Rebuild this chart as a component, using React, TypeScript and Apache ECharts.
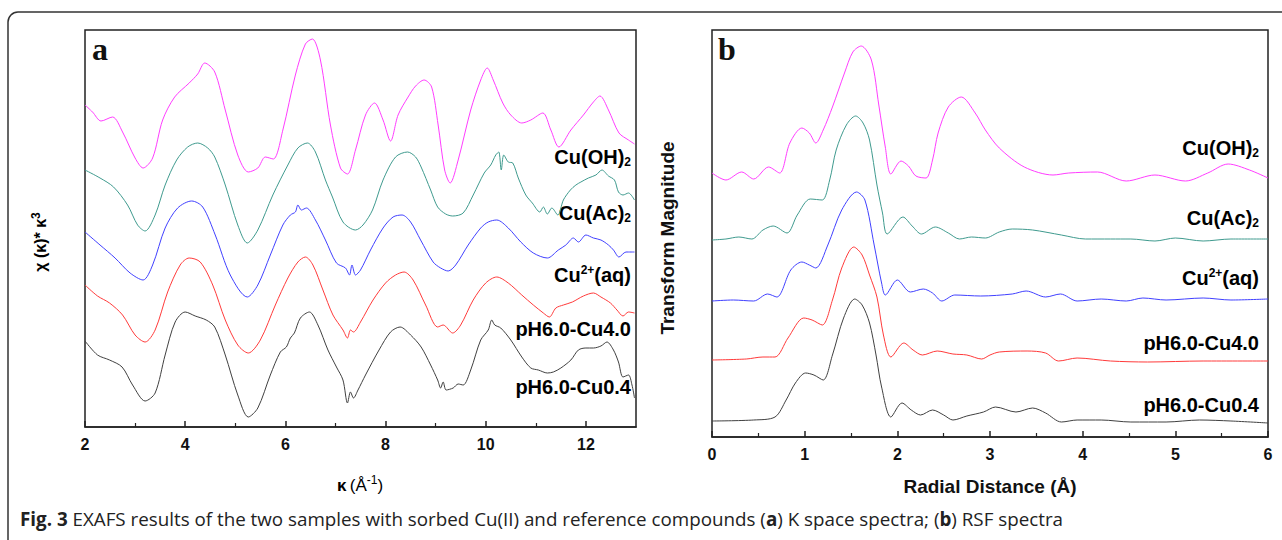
import React, { useEffect, useRef } from "react";
import * as echarts from "echarts";

// ---------- Panel a: k-space spectra (k, chi*k^3 offset, arbitrary units) ----------
const kTicksMajor = [2, 4, 6, 8, 10, 12];
const kTicksMinor = [3, 5, 7, 9, 11];

const kCuOH2 = [[2.0,322],[2.15,315],[2.32,306],[2.55,310],[2.75,295],[3.0,269],[3.16,259],[3.35,269],[3.55,307],[3.79,330],[4.08,344],[4.25,353],[4.39,364],[4.59,355],[4.8,317],[5.05,272],[5.26,255],[5.45,259],[5.6,270],[5.76,268],[5.95,297],[6.2,352],[6.4,383],[6.54,388],[6.7,367],[6.9,302],[7.1,259],[7.24,253],[7.4,277],[7.6,312],[7.78,324],[7.95,307],[8.1,286],[8.25,312],[8.45,330],[8.6,341],[8.77,347],[8.92,340],[9.05,302],[9.18,257],[9.29,244],[9.45,267],[9.7,317],[9.9,347],[10.03,359],[10.15,347],[10.34,324],[10.5,312],[10.72,304],[10.9,307],[11.14,314],[11.3,297],[11.46,280],[11.7,297],[11.95,312],[12.15,325],[12.28,331],[12.45,317],[12.66,294],[12.85,287],[12.97,283]];
const kCuAc2 = [[2.0,257],[2.3,249],[2.57,240],[2.85,222],[3.05,202],[3.2,196],[3.4,212],[3.6,242],[3.83,267],[4.05,280],[4.25,284],[4.45,279],[4.59,270],[4.8,242],[5.05,202],[5.24,184],[5.45,197],[5.75,232],[6.05,262],[6.25,279],[6.44,284],[6.6,275],[6.8,247],[6.94,230],[7.15,205],[7.4,197],[7.55,202],[7.74,217],[7.95,247],[8.2,270],[8.44,275],[8.6,270],[8.71,260],[8.9,237],[9.04,220],[9.2,213],[9.34,211],[9.55,214],[9.75,232],[9.97,254],[10.1,262],[10.2,272],[10.26,275],[10.31,257],[10.36,272],[10.45,265],[10.54,264],[10.65,249],[10.8,232],[10.93,224],[11.08,215],[11.15,220],[11.23,213],[11.32,219],[11.44,212],[11.55,227],[11.69,237],[11.8,242],[11.9,245],[12.05,249],[12.2,252],[12.32,257],[12.45,251],[12.57,247],[12.65,235],[12.74,232],[12.85,234],[12.97,227]];
const kCuAq = [[2.0,195],[2.3,182],[2.6,169],[2.9,154],[3.16,147],[3.35,162],[3.6,199],[3.85,219],[4.13,226],[4.35,220],[4.6,192],[4.9,152],[5.24,130],[5.45,142],[5.7,172],[5.95,202],[6.1,212],[6.2,215],[6.25,222],[6.32,217],[6.42,219],[6.6,207],[6.8,187],[7.02,164],[7.2,159],[7.28,152],[7.33,162],[7.4,152],[7.5,157],[7.7,177],[7.95,199],[8.15,210],[8.33,212],[8.5,205],[8.7,187],[8.95,165],[9.1,159],[9.25,156],[9.4,162],[9.65,182],[9.9,199],[10.05,205],[10.22,207],[10.45,199],[10.7,185],[10.95,174],[11.23,169],[11.45,177],[11.6,182],[11.75,189],[11.85,185],[12.0,192],[12.15,189],[12.3,187],[12.45,182],[12.55,177],[12.66,170],[12.8,175],[12.97,175]];
const kPh60Cu40 = [[2.0,142],[2.25,131],[2.49,124],[2.75,112],[3.0,92],[3.2,85],[3.4,97],[3.65,135],[3.9,162],[4.08,169],[4.3,165],[4.55,142],[4.8,107],[5.05,82],[5.26,74],[5.5,87],[5.8,122],[6.05,149],[6.25,165],[6.4,170],[6.55,162],[6.75,137],[6.95,112],[7.15,97],[7.24,89],[7.3,97],[7.36,95],[7.5,105],[7.75,127],[8.0,144],[8.2,152],[8.37,155],[8.55,147],[8.8,122],[9.04,100],[9.15,102],[9.34,94],[9.5,102],[9.75,127],[10.0,144],[10.22,150],[10.45,144],[10.72,132],[10.95,122],[11.15,114],[11.27,110],[11.4,119],[11.55,122],[11.73,125],[11.95,131],[12.15,134],[12.3,130],[12.49,124],[12.62,117],[12.74,111],[12.85,115],[12.97,114]];
const kPh60Cu04 = [[2.0,86],[2.25,72],[2.49,67],[2.74,60],[2.95,42],[3.2,26],[3.4,34],[3.6,72],[3.8,105],[4.0,115],[4.2,111],[4.42,107],[4.59,100],[4.8,72],[5.05,32],[5.26,10],[5.45,19],[5.7,52],[5.9,75],[6.02,80],[6.1,89],[6.18,94],[6.3,109],[6.48,115],[6.65,102],[6.85,77],[7.02,60],[7.15,47],[7.24,24],[7.3,35],[7.36,29],[7.45,37],[7.6,52],[7.87,77],[8.1,95],[8.29,100],[8.5,92],[8.71,80],[8.9,62],[9.04,47],[9.1,39],[9.15,45],[9.21,37],[9.35,39],[9.45,43],[9.55,42],[9.7,57],[9.9,87],[10.05,97],[10.12,107],[10.18,102],[10.3,99],[10.5,87],[10.72,70],[10.9,59],[11.05,57],[11.23,54],[11.35,55],[11.5,59],[11.7,67],[11.85,77],[12.0,79],[12.15,79],[12.3,81],[12.42,85],[12.55,77],[12.65,65],[12.74,50],[12.85,52],[12.92,42],[12.97,29]];

// ---------- Panel b: RSF spectra (R in Å, transform magnitude offset) ----------
const rTicksMajor = [0, 1, 2, 3, 4, 5, 6];
const rTicksMinor = [0.5, 1.5, 2.5, 3.5, 4.5, 5.5];

const rCuOH2 = [[0,264],[0.15,257],[0.32,265],[0.45,258],[0.61,270],[0.73,264],[0.84,294],[0.97,309],[1.05,304],[1.12,294],[1.2,307],[1.3,330],[1.43,364],[1.52,385],[1.61,391],[1.72,377],[1.8,332],[1.87,290],[1.93,263],[2.04,276],[2.12,271],[2.2,261],[2.31,259],[2.38,277],[2.44,304],[2.55,330],[2.69,340],[2.84,324],[2.95,307],[3.1,289],[3.37,270],[3.68,262],[3.85,264],[4.16,265],[4.47,256],[4.78,262],[5.11,256],[5.35,264],[5.57,273],[5.8,267],[6.0,259]];
const rCuAc2 = [[0,197],[0.15,198],[0.29,200],[0.43,198],[0.55,207],[0.66,211],[0.81,204],[0.92,222],[1.06,238],[1.19,237],[1.27,257],[1.34,287],[1.45,312],[1.55,321],[1.63,314],[1.7,297],[1.78,252],[1.84,224],[1.89,203],[2.06,220],[2.16,211],[2.26,203],[2.41,210],[2.55,204],[2.67,198],[2.8,200],[2.95,199],[3.1,205],[3.24,208],[3.46,207],[3.77,202],[4.03,198],[4.3,198],[4.52,198],[4.78,196],[5.0,199],[5.3,196],[5.6,198],[6.0,198]];
const rCuAq = [[0,136],[0.23,137],[0.45,136],[0.6,143],[0.7,140],[0.85,167],[0.97,175],[1.05,172],[1.12,169],[1.25,192],[1.4,227],[1.56,245],[1.65,237],[1.75,192],[1.83,154],[1.87,142],[2.0,157],[2.14,145],[2.28,148],[2.38,144],[2.48,136],[2.62,142],[2.9,141],[3.24,143],[3.39,146],[3.6,140],[3.76,143],[3.94,136],[4.2,138],[4.47,136],[4.65,139],[4.9,137],[5.3,139],[5.6,137],[6.0,138]];
const rPh60Cu40 = [[0,77],[0.37,78],[0.55,80],[0.68,80],[0.82,99],[0.99,119],[1.08,117],[1.19,112],[1.3,137],[1.4,169],[1.53,190],[1.62,182],[1.7,162],[1.78,140],[1.85,102],[1.93,80],[2.07,94],[2.17,87],[2.27,82],[2.43,86],[2.6,83],[2.75,82],[2.91,78],[3.0,82],[3.1,85],[3.4,86],[3.6,84],[3.74,76],[3.94,79],[4.3,76],[4.7,75],[5.3,76],[6.0,76]];
const rPh60Cu04 = [[0,16],[0.45,17],[0.68,20],[0.8,37],[0.9,54],[1.01,64],[1.1,62],[1.2,57],[1.3,82],[1.42,119],[1.54,138],[1.62,132],[1.7,114],[1.77,82],[1.83,50],[1.93,20],[2.05,34],[2.15,27],[2.25,22],[2.38,27],[2.5,22],[2.6,17],[2.75,21],[2.93,25],[3.06,30],[3.28,25],[3.46,29],[3.6,24],[3.77,15],[3.94,17],[4.2,17],[4.52,15],[4.9,15],[5.26,17],[5.6,16],[6.0,14]];

const seriesNames = ["Cu(OH)2", "Cu(Ac)2", "Cu2+(aq)", "pH6.0-Cu4.0", "pH6.0-Cu0.4"];
const seriesColors = ["#ff3dff", "#3f9a8e", "#4040ff", "#ff3a3a", "#404040"];

const SANS = "'Liberation Sans', Arial, Helvetica, sans-serif";
const SERIF = "'Liberation Serif', 'Times New Roman', serif";
const NARROW = "'Liberation Sans Narrow', 'Arial Narrow', 'Open Sans', sans-serif";

function mainAxis(grid: number, min: number, max: number, interval: number, ticks: number[]) {
  return {
    gridIndex: grid,
    type: "value",
    min,
    max,
    interval,
    position: "bottom",
    axisLine: { show: true, onZero: false, lineStyle: { color: "#222", width: 1.5 } },
    axisTick: { show: true, inside: true, length: 6, customValues: ticks, lineStyle: { color: "#222", width: 1.5 } },
    axisLabel: {
      show: true,
      customValues: ticks,
      fontFamily: SANS,
      fontWeight: "bold",
      fontSize: 16,
      color: "#111",
      margin: 9,
    },
    splitLine: { show: false },
  };
}

function minorAxis(grid: number, min: number, max: number, ticks: number[]) {
  return {
    gridIndex: grid,
    type: "value",
    min,
    max,
    position: "bottom",
    axisLine: { show: false, onZero: false },
    axisTick: { show: true, inside: true, length: 4, customValues: ticks, lineStyle: { color: "#222", width: 1.2 } },
    axisLabel: { show: false },
    splitLine: { show: false },
  };
}

function hiddenY(grid: number, max: number) {
  return {
    gridIndex: grid,
    type: "value",
    min: 0,
    max,
    axisLine: { show: false },
    axisTick: { show: false },
    axisLabel: { show: false },
    splitLine: { show: false },
  };
}

function lineSeries(data: number[][], color: string, xi: number, yi: number, name: string) {
  return {
    name,
    type: "line",
    xAxisIndex: xi,
    yAxisIndex: yi,
    data,
    symbol: "none",
    smooth: 0.3,
    lineStyle: { color, width: 1 },
    silent: true,
  };
}

const labelRich = {
  m: { fontFamily: SANS, fontWeight: "bold", fontSize: 20, color: "#111", lineHeight: 22 },
  sub: { fontFamily: SANS, fontWeight: "bold", fontSize: 12, color: "#111", lineHeight: 12, verticalAlign: "bottom" },
  sup: { fontFamily: SANS, fontWeight: "bold", fontSize: 12, color: "#111", lineHeight: 12, verticalAlign: "top" },
};

const labelTexts = [
  "{m|Cu(OH)}{sub|2}",
  "{m|Cu(Ac)}{sub|2}",
  "{m|Cu}{sup|2+}{m|(aq)}",
  "{m|pH6.0-Cu4.0}",
  "{m|pH6.0-Cu0.4}",
];

function seriesLabel(text: string, x: number, y: number) {
  return {
    type: "text",
    x,
    y,
    silent: true,
    style: { text, rich: labelRich, align: "right", verticalAlign: "middle" },
  };
}

export default function App() {
  const ref = useRef<HTMLDivElement>(null);

  useEffect(() => {
    document.body.style.margin = "0";
    if (!ref.current) return;
    const chart = echarts.init(ref.current, null, { renderer: "svg" });

    const aLabelY = [157, 213, 275, 329, 387];
    const bLabelY = [148, 218, 278, 343, 405];

    const option = {
      animation: false,
      backgroundColor: "#fff",
      grid: [
        { left: 85, top: 30, width: 551, height: 397, show: true, borderColor: "#222", borderWidth: 1.5, backgroundColor: "transparent" },
        { left: 712, top: 30, width: 556, height: 407, show: true, borderColor: "#222", borderWidth: 1.5, backgroundColor: "transparent" },
      ],
      xAxis: [
        mainAxis(0, 2, 13, 2, kTicksMajor),
        minorAxis(0, 2, 13, kTicksMinor),
        mainAxis(1, 0, 6, 1, rTicksMajor),
        minorAxis(1, 0, 6, rTicksMinor),
      ],
      yAxis: [hiddenY(0, 397), hiddenY(1, 407)],
      series: [
        lineSeries(kCuOH2, seriesColors[0], 0, 0, seriesNames[0]),
        lineSeries(kCuAc2, seriesColors[1], 0, 0, seriesNames[1]),
        lineSeries(kCuAq, seriesColors[2], 0, 0, seriesNames[2]),
        lineSeries(kPh60Cu40, seriesColors[3], 0, 0, seriesNames[3]),
        lineSeries(kPh60Cu04, seriesColors[4], 0, 0, seriesNames[4]),
        lineSeries(rCuOH2, seriesColors[0], 2, 1, seriesNames[0]),
        lineSeries(rCuAc2, seriesColors[1], 2, 1, seriesNames[1]),
        lineSeries(rCuAq, seriesColors[2], 2, 1, seriesNames[2]),
        lineSeries(rPh60Cu40, seriesColors[3], 2, 1, seriesNames[3]),
        lineSeries(rPh60Cu04, seriesColors[4], 2, 1, seriesNames[4]),
      ],
      graphic: [
        {
          type: "rect",
          silent: true,
          shape: { x: 8, y: 12, width: 1320, height: 640, r: 10 },
          style: { fill: "none", stroke: "#333", lineWidth: 1.5 },
        },
        { type: "text", x: 92, y: 49, silent: true, style: { text: "a", font: `bold 32px ${SERIF}`, fill: "#111", align: "left", verticalAlign: "middle" } },
        { type: "text", x: 718, y: 49, silent: true, style: { text: "b", font: `bold 32px ${SERIF}`, fill: "#111", align: "left", verticalAlign: "middle" } },
        ...labelTexts.map((t, i) => seriesLabel(t, 631, aLabelY[i])),
        ...labelTexts.map((t, i) => seriesLabel(t, 1259, bLabelY[i])),
        {
          type: "text",
          x: 40,
          y: 242,
          rotation: Math.PI / 2,
          silent: true,
          style: {
            text: "{m|χ (κ)* κ}{sup|3}",
            align: "center",
            verticalAlign: "middle",
            rich: {
              m: { fontFamily: SANS, fontWeight: "bold", fontSize: 16, color: "#111", lineHeight: 20 },
              sup: { fontFamily: SANS, fontWeight: "bold", fontSize: 12, color: "#111", lineHeight: 12, verticalAlign: "top" },
            },
          },
        },
        {
          type: "text",
          x: 667,
          y: 238,
          rotation: Math.PI / 2,
          silent: true,
          style: { text: "Transform Magnitude", font: `bold 19px ${SANS}`, fill: "#111", align: "center", verticalAlign: "middle" },
        },
        {
          type: "text",
          x: 360,
          y: 485,
          silent: true,
          style: {
            text: "{b|κ} {n|(Å}{sup|-1}{n|)}",
            align: "center",
            verticalAlign: "middle",
            rich: {
              b: { fontFamily: SANS, fontWeight: "bold", fontSize: 17, color: "#111", lineHeight: 22 },
              n: { fontFamily: SANS, fontSize: 17, color: "#111", lineHeight: 22 },
              sup: { fontFamily: SANS, fontSize: 12, color: "#111", lineHeight: 12, verticalAlign: "top" },
            },
          },
        },
        {
          type: "text",
          x: 990,
          y: 486,
          silent: true,
          style: { text: "Radial Distance (Å)", font: `bold 19px ${SANS}`, fill: "#111", align: "center", verticalAlign: "middle" },
        },
        {
          type: "text",
          x: 20,
          y: 519,
          silent: true,
          style: {
            text: "{b|Fig. 3} EXAFS results of the two samples with sorbed Cu(II) and reference compounds ({b|a}) K space spectra; ({b|b}) RSF spectra",
            align: "left",
            verticalAlign: "middle",
            fontFamily: NARROW,
            fontSize: 18.8,
            fill: "#222",
            rich: {
              b: { fontFamily: NARROW, fontWeight: "bold", fontSize: 18.8, color: "#222" },
            },
          },
        },
      ],
    };

    chart.setOption(option as any);
    return () => {
      chart.dispose();
    };
  }, []);

  return <div ref={ref} style={{ width: 1282, height: 540 }} />;
}
